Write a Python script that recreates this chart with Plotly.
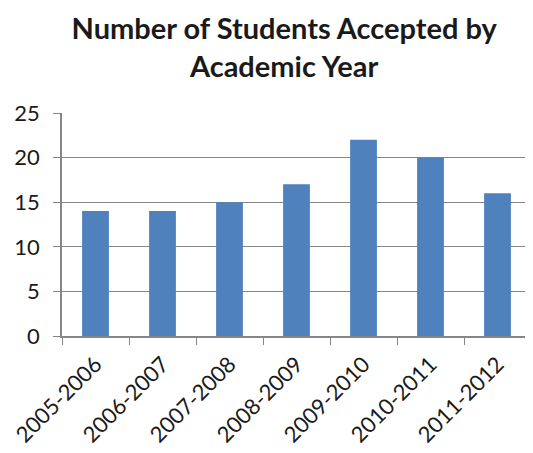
import plotly.graph_objects as go

years = ["2005-2006", "2006-2007", "2007-2008", "2008-2009", "2009-2010", "2010-2011", "2011-2012"]
students = [14, 14, 15, 17, 22, 20, 16]

fig = go.Figure(go.Bar(x=years, y=students, marker=dict(color="#4F81BD", line=dict(width=0))))

# page body has an 8px margin, so figure is sized/offset accordingly
fig.update_layout(
    width=525, height=445,
    margin=dict(l=54, r=2, t=105, b=117),
    paper_bgcolor="white", plot_bgcolor="white",
    bargap=0.6,
    font=dict(family="Lato, Open Sans, sans-serif", color="#1a1a1a"),
    title=dict(text="<b>Number of Students Accepted by<br>Academic Year</b>",
               x=0.526, xanchor="center", y=0.93, yanchor="middle",
               font=dict(size=29, color="#1a1a1a")),
    showlegend=False,
)
fig.update_xaxes(type="category", tickangle=-45, tickfont=dict(size=22),
                 showline=True, linecolor="#868686", linewidth=1.5,
                 ticks="outside", tickson="boundaries", ticklen=7, tickcolor="#868686",
                 ticklabelstandoff=5,
                 showgrid=False, automargin=False)
fig.update_yaxes(range=[0, 25], dtick=5, tickfont=dict(size=22),
                 showline=True, linecolor="#868686", linewidth=1.5,
                 ticks="outside", ticklen=7, tickcolor="#868686",
                 ticklabelstandoff=9,
                 showgrid=True, gridcolor="#868686", gridwidth=1.2, zeroline=False,
                 automargin=False)

fig.write_html("out.html")
